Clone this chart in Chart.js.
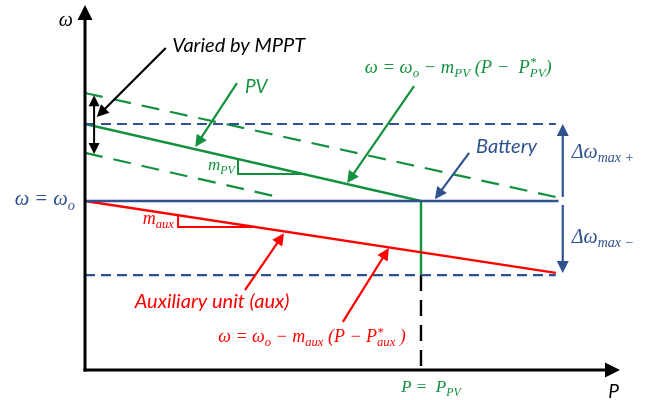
<!DOCTYPE html>
<html>
<head>
<meta charset="utf-8">
<script src="https://cdn.jsdelivr.net/npm/chart.js@4/dist/chart.umd.min.js"></script>
<style>
  html, body { margin: 0; padding: 0; background: #fff; }
  #droop { display: block; }
</style>
</head>
<body>
<canvas id="droop" width="668" height="400"></canvas>
<script>
// droop characteristics, P on x, omega on y (arbitrary units)
const pvDroop   = [[0, 6.74], [6.28, 4.63], [6.28, 2.6]];
const pvUpper   = [[0, 7.59], [8.8, 4.74]];
const pvLower   = [[0, 5.95], [3.7, 4.71]];
const battery   = [[0, 4.63], [8.85, 4.63]];
const auxDroop  = [[0, 4.63], [8.8, 2.66]];
const bandHi    = [[0, 6.74], [8.8, 6.74]];
const bandLo    = [[0, 2.6], [8.8, 2.6]];
const pvMarker  = [[6.28, 2.6], [6.28, 0]];
const pvSlope   = [[2.86, 5.78], [2.86, 5.37], [4.13, 5.37]];
const auxSlope  = [[1.74, 4.24], [1.74, 3.92], [3.18, 3.92]];

const GREEN = '#14913f';
const BLUE = '#2f528f';
const RED = '#ff0000';
const LABEL_FONT = 'Lato, "Open Sans", sans-serif';
const MATH_FONT = '"Liberation Serif", "DejaVu Serif", serif';
const SUB = 0.7;

const toPts = (arr) => arr.map(([x, y]) => ({ x, y }));
const line = (data, color, dash, width) => ({
  data: toPts(data),
  showLine: true,
  borderColor: color,
  borderWidth: width || 2.2,
  borderDash: dash || [],
  pointRadius: 0,
  fill: false,
  tension: 0,
});

// arrows: [fromX, fromY, toX, toY, color]
const arrows = [
  [1.51, 8.82, 0.22, 6.93, '#000'],
  [2.84, 7.86, 2.06, 6.11, GREEN],
  [6.15, 7.78, 4.90, 5.12, GREEN],
  [7.18, 5.95, 6.54, 4.68, BLUE],
  [8.93, 4.74, 8.93, 6.74, BLUE],
  [8.93, 4.52, 8.93, 2.66, BLUE],
  [2.99, 2.19, 3.72, 3.75, RED],
  [4.82, 1.32, 5.68, 3.34, RED],
];

// runs: [text, mode] mode: '' normal, 'sub', 'sup', 'ss' (sup over sub)
const labels = [
  { x: -0.36, y: 9.42, size: 20, color: '#000', math: true, align: 'center', runs: [['ω']] },
  { x: 1.63, y: 8.71, size: 20, color: '#000', runs: [['Varied by MPPT']] },
  { x: 2.99, y: 7.59, size: 19, color: GREEN, runs: [['PV']] },
  { x: 5.23, y: 8.14, size: 18.5, color: GREEN, math: true,
    runs: [['ω = ω'], ['o', 'sub'], [' − m'], ['PV', 'sub'], [' (P −  P'], ['*', 'ss', 'PV'], [')']] },
  { x: 7.31, y: 5.95, size: 20, color: BLUE, runs: [['Battery']] },
  { x: 9.10, y: 5.81, size: 20, color: BLUE, math: true, runs: [['Δω'], ['max +', 'sub']] },
  { x: 9.10, y: 3.48, size: 20, color: BLUE, math: true, runs: [['Δω'], ['max −', 'sub']] },
  { x: -0.19, y: 4.52, size: 20.5, color: BLUE, math: true, align: 'right', runs: [['ω = ω'], ['o', 'sub']] },
  { x: 2.80, y: 5.48, size: 17, color: GREEN, math: true, align: 'right', runs: [['m'], ['PV', 'sub']] },
  { x: 1.66, y: 4.0, size: 18, color: RED, math: true, align: 'right', runs: [['m'], ['aux', 'sub']] },
  { x: 0.93, y: 1.70, size: 20, color: RED, runs: [['Auxiliary unit (aux)']] },
  { x: 2.49, y: 0.77, size: 18, color: RED, math: true,
    runs: [['ω = ω'], ['o', 'sub'], [' − m'], ['aux', 'sub'], [' (P − P'], ['*', 'ss', 'aux'], [' )']] },
  { x: 5.91, y: -0.60, size: 17, color: GREEN, math: true, runs: [['P =  P'], ['PV', 'sub']] },
  { x: 9.78, y: -0.77, size: 19, color: '#000', runs: [['P']] },
];

function arrowHead(ctx, x1, y1, x2, y2, len, half) {
  const a = Math.atan2(y2 - y1, x2 - x1);
  ctx.beginPath();
  ctx.moveTo(x2, y2);
  ctx.lineTo(x2 - len * Math.cos(a) + half * Math.sin(a), y2 - len * Math.sin(a) - half * Math.cos(a));
  ctx.lineTo(x2 - len * Math.cos(a) - half * Math.sin(a), y2 - len * Math.sin(a) + half * Math.cos(a));
  ctx.closePath();
  ctx.fill();
}

function drawArrow(ctx, x1, y1, x2, y2, color, width, len, half) {
  const a = Math.atan2(y2 - y1, x2 - x1);
  ctx.save();
  ctx.strokeStyle = color;
  ctx.fillStyle = color;
  ctx.lineWidth = width;
  ctx.setLineDash([]);
  ctx.beginPath();
  ctx.moveTo(x1, y1);
  ctx.lineTo(x2 - len * 0.8 * Math.cos(a), y2 - len * 0.8 * Math.sin(a));
  ctx.stroke();
  arrowHead(ctx, x1, y1, x2, y2, len, half);
  ctx.restore();
}

function fontFor(lbl, size) {
  return lbl.math ? `italic ${size}px ${MATH_FONT}` : `italic ${size}px ${LABEL_FONT}`;
}

function runWidth(ctx, lbl, run) {
  const small = lbl.size * SUB;
  if (run[1] === 'sub' || run[1] === 'sup') {
    ctx.font = fontFor(lbl, small);
    return ctx.measureText(run[0]).width;
  }
  if (run[1] === 'ss') {
    ctx.font = fontFor(lbl, small);
    return Math.max(ctx.measureText(run[0]).width, ctx.measureText(run[2]).width);
  }
  ctx.font = fontFor(lbl, lbl.size);
  return ctx.measureText(run[0]).width;
}

function drawLabel(ctx, lbl, x, y) {
  ctx.save();
  ctx.fillStyle = lbl.color;
  ctx.textBaseline = 'alphabetic';
  ctx.textAlign = 'left';
  const total = lbl.runs.reduce((s, r) => s + runWidth(ctx, lbl, r), 0);
  let cx = x;
  if (lbl.align === 'right') cx = x - total;
  if (lbl.align === 'center') cx = x - total / 2;
  const small = lbl.size * SUB;
  lbl.runs.forEach((run) => {
    const w = runWidth(ctx, lbl, run);
    if (run[1] === 'sub') {
      ctx.font = fontFor(lbl, small);
      ctx.fillText(run[0], cx, y + lbl.size * 0.22);
    } else if (run[1] === 'sup') {
      ctx.font = fontFor(lbl, small);
      ctx.fillText(run[0], cx, y - lbl.size * 0.4);
    } else if (run[1] === 'ss') {
      ctx.font = fontFor(lbl, small);
      ctx.fillText(run[0], cx, y - lbl.size * 0.35);
      ctx.fillText(run[2], cx, y + lbl.size * 0.22);
    } else {
      ctx.font = fontFor(lbl, lbl.size);
      ctx.fillText(run[0], cx, y);
    }
    cx += w;
  });
  ctx.restore();
}

const diagramPlugin = {
  id: 'droopDiagram',
  afterDatasetsDraw(chart) {
    const { ctx, scales: { x, y } } = chart;
    const px = (v) => x.getPixelForValue(v);
    const py = (v) => y.getPixelForValue(v);

    // axes with arrow heads
    drawArrow(ctx, px(0), py(0) + 1.5, px(0), py(10), '#000', 3, 15, 7.5);
    drawArrow(ctx, px(0) - 1.5, py(0), px(10), py(0), '#000', 3, 15, 7.5);

    // double arrow showing the MPPT shift
    drawArrow(ctx, px(0.17), py(6.7), px(0.17), py(7.53), '#000', 2, 11, 5.5);
    drawArrow(ctx, px(0.17), py(6.7), px(0.17), py(5.92), '#000', 2, 11, 5.5);

    arrows.forEach(([x1, y1, x2, y2, c]) => {
      drawArrow(ctx, px(x1), py(y1), px(x2), py(y2), c, 2.2, 12, 6);
    });

    labels.forEach((lbl) => drawLabel(ctx, lbl, px(lbl.x), py(lbl.y)));
  },
};

new Chart(document.getElementById('droop'), {
  type: 'scatter',
  data: {
    datasets: [
      line(bandHi, BLUE, [10, 6], 2.2),
      line(bandLo, BLUE, [10, 6], 2.2),
      line(pvUpper, GREEN, [18, 11], 2.2),
      line(pvLower, GREEN, [18, 11], 2.2),
      line(battery, BLUE, [], 2.4),
      line(auxDroop, RED, [], 2.4),
      line(pvDroop, GREEN, [], 2.4),
      line(pvMarker, '#000', [16, 9], 2.4),
      line(pvSlope, GREEN, [], 2),
      line(auxSlope, RED, [], 2),
    ],
  },
  options: {
    responsive: false,
    animation: false,
    layout: { padding: { left: 85, right: 48, top: 5, bottom: 30 } },
    plugins: { legend: { display: false }, tooltip: { enabled: false } },
    scales: {
      x: { type: 'linear', min: 0, max: 10, display: false },
      y: { type: 'linear', min: 0, max: 10, display: false },
    },
  },
  plugins: [diagramPlugin],
});
</script>
</body>
</html>
